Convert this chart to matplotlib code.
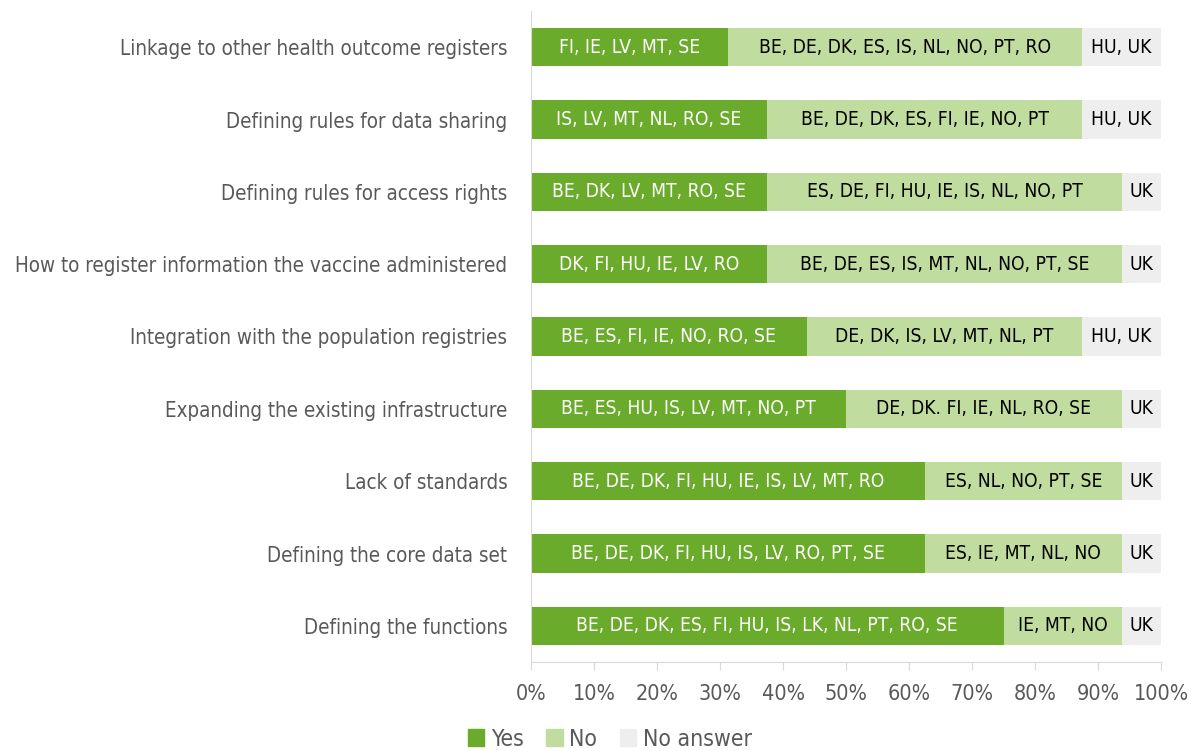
import matplotlib
matplotlib.use("Agg")
import matplotlib.pyplot as plt
from matplotlib.patches import Patch

categories = [
    "Linkage to other health outcome registers",
    "Defining rules for data sharing",
    "Defining rules for access rights",
    "How to register information the vaccine administered",
    "Integration with the population registries",
    "Expanding the existing infrastructure",
    "Lack of standards",
    "Defining the core data set",
    "Defining the functions",
]
yes_pct = [31.25, 37.5, 37.5, 37.5, 43.75, 50.0, 62.5, 62.5, 75.0]
no_pct = [56.25, 50.0, 56.25, 56.25, 43.75, 43.75, 31.25, 31.25, 18.75]
na_pct = [12.5, 12.5, 6.25, 6.25, 12.5, 6.25, 6.25, 6.25, 6.25]
yes_labels = [
    "FI, IE, LV, MT, SE",
    "IS, LV, MT, NL, RO, SE",
    "BE, DK, LV, MT, RO, SE",
    "DK, FI, HU, IE, LV, RO",
    "BE, ES, FI, IE, NO, RO, SE",
    "BE, ES, HU, IS, LV, MT, NO, PT",
    "BE, DE, DK, FI, HU, IE, IS, LV, MT, RO",
    "BE, DE, DK, FI, HU, IS, LV, RO, PT, SE",
    "BE, DE, DK, ES, FI, HU, IS, LK, NL, PT, RO, SE",
]
no_labels = [
    "BE, DE, DK, ES, IS, NL, NO, PT, RO",
    "BE, DE, DK, ES, FI, IE, NO, PT",
    "ES, DE, FI, HU, IE, IS, NL, NO, PT",
    "BE, DE, ES, IS, MT, NL, NO, PT, SE",
    "DE, DK, IS, LV, MT, NL, PT",
    "DE, DK. FI, IE, NL, RO, SE",
    "ES, NL, NO, PT, SE",
    "ES, IE, MT, NL, NO",
    "IE, MT, NO",
]
na_labels = ["HU, UK", "HU, UK", "UK", "UK", "HU, UK", "UK", "UK", "UK", "UK"]
series_names = ["Yes", "No", "No answer"]
xticks = [0, 10, 20, 30, 40, 50, 60, 70, 80, 90, 100]

c_yes = "#6aab2b"
c_no = "#c0dc9e"
c_na = "#eeeeee"
c_txt = "#595959"

plt.rcParams["font.family"] = ["DejaVu Sans"]
plt.rcParams["font.stretch"] = "condensed"

fig = plt.figure(figsize=(11.91, 7.51), dpi=100)
ax = fig.add_axes([531 / 1191, 1 - 662 / 751, (1161 - 531) / 1191, (662 - 11) / 751])

y = list(range(len(categories)))
h = 0.53
left_no = [a for a in yes_pct]
left_na = [a + b for a, b in zip(yes_pct, no_pct)]
ax.barh(y, yes_pct, height=h, color=c_yes, label=series_names[0])
ax.barh(y, no_pct, left=left_no, height=h, color=c_no, label=series_names[1])
ax.barh(y, na_pct, left=left_na, height=h, color=c_na, label=series_names[2])

fs_in = 13.8
for i in y:
    ax.text(yes_pct[i] / 2, i, yes_labels[i], ha="center", va="center",
            color="white", fontsize=fs_in)
    ax.text(left_no[i] + no_pct[i] / 2, i, no_labels[i], ha="center", va="center",
            color="black", fontsize=fs_in)
    ax.text(left_na[i] + na_pct[i] / 2, i, na_labels[i], ha="center", va="center",
            color="black", fontsize=fs_in)

ax.set_ylim(len(categories) - 0.5, -0.5)
ax.set_xlim(0, 100)
ax.set_yticks(y)
ax.set_yticklabels(categories, fontsize=14.8, color=c_txt)
ax.tick_params(axis="y", length=0, pad=17)
ax.set_xticks(xticks)
ax.set_xticklabels([f"{t}%" for t in xticks], fontsize=15.5, color=c_txt)
ax.tick_params(axis="x", length=6, color="#d9d9d9", pad=10)
for s in ["top", "right"]:
    ax.spines[s].set_visible(False)
ax.spines["left"].set_color("#d9d9d9")
ax.spines["bottom"].set_color("#d9d9d9")

handles = [Patch(color=c_yes), Patch(color=c_no), Patch(color=c_na)]
fig.legend(handles, series_names, loc="center", bbox_to_anchor=(610 / 1191, 1 - 739 / 751),
           ncol=3, frameon=False, fontsize=16.5, handlelength=0.7, handleheight=0.7,
           handletextpad=0.3, columnspacing=1.0, labelcolor=c_txt)

fig.savefig("out.png", dpi=100)
